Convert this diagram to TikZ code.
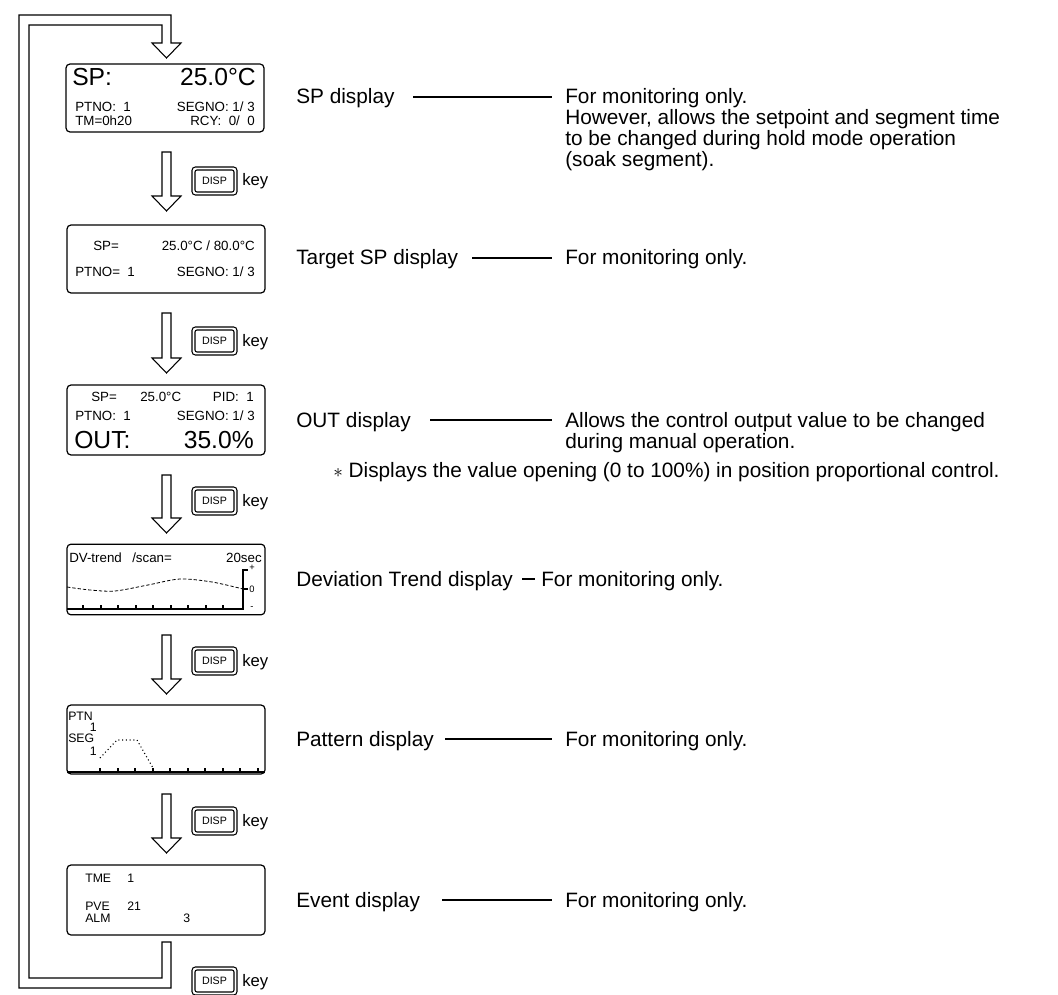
\documentclass[tikz,border=0pt]{standalone}
\usepackage{fontspec}
\setmainfont{Liberation Sans}
\newcommand{\rtxt}{\fontsize{15.6pt}{15.75pt}\selectfont}
\newcommand{\lcdbig}{\fontsize{18.5pt}{18.5pt}\selectfont}
\newcommand{\lcdsm}{\fontsize{10pt}{10pt}\selectfont}
\newcommand{\lcdev}{\fontsize{9.2pt}{9.2pt}\selectfont}
\newcommand{\lcdtiny}{\fontsize{7pt}{7pt}\selectfont}
\newcommand{\dispf}{\fontsize{8pt}{8pt}\selectfont}
\newcommand{\keyf}{\fontsize{12.5pt}{12.5pt}\selectfont}
\begin{document}
\begin{tikzpicture}[x=0.75pt,y=-0.75pt,
  lcd/.style={draw, line width=0.9pt, rounded corners=3pt, minimum width=148.5pt, inner sep=0pt},
  tx/.style={inner sep=0pt, anchor=base west},
  txr/.style={inner sep=0pt, anchor=base east},
  lab/.style={inner sep=0pt, anchor=base west, font=\rtxt},
  leader/.style={line width=1.5pt},
  blk/.style={draw, line width=0.8pt, fill=white},
  keybox/.style={draw, line width=0.8pt, rounded corners=2.5pt, minimum width=33.75pt, minimum height=21pt, inner sep=0pt},
  keyin/.style={draw, line width=0.8pt, rounded corners=1.5pt, minimum width=29.25pt, minimum height=16.5pt, inner sep=0pt, font=\dispf},
  tick/.style={line width=0.8pt}
]
\useasboundingbox (0,0) rectangle (1058,995);

% ---------- loop arrow ----------
\draw[blk] (162,942) -- (162,978) -- (29,978) -- (29,25) -- (162,25) -- (162,43)
  -- (152,43) -- (166.5,58) -- (181,43) -- (171,43) -- (171,15) -- (19,15)
  -- (19,988) -- (171,988) -- (171,942) -- cycle;

% ---------- displays ----------
\node[lcd, minimum height=51pt] (b1) at (165,98) {};
\node[lcd, minimum height=51pt] (b2) at (166,259) {};
\node[lcd, minimum height=52.5pt] (b3) at (166,420) {};
\node[lcd, minimum height=53pt] (b4) at (166,579.5) {};
\node[lcd, minimum height=51.75pt] (b5) at (166,739.5) {};
\node[lcd, minimum height=52.5pt] (b6) at (166,900) {};

% box 1
\node[tx, font=\lcdbig] (b1a) at (72,86) {SP:};
\node[txr, font=\lcdbig] (b1b) at (256,86) {25.0°C};
\node[tx, font=\lcdsm] (b1c) at (75,112) {PTNO:\ \ 1};
\node[txr, font=\lcdsm] (b1d) at (255,112) {SEGNO: 1/ 3};
\node[tx, font=\lcdsm] (b1e) at (75,126) {TM=0h20};
\node[txr, font=\lcdsm] (b1f) at (255,126) {RCY:\ \ 0/\ \ 0};

% box 2
\node[tx, font=\lcdsm] (b2a) at (93,251) {SP=};
\node[txr, font=\lcdsm] (b2b) at (255,251) {25.0°C / 80.0°C};
\node[tx, font=\lcdsm] (b2c) at (75,277) {PTNO=\ \ 1};
\node[txr, font=\lcdsm] (b2d) at (255,277) {SEGNO: 1/ 3};

% box 3
\node[tx, font=\lcdsm] (b3a) at (91,402) {SP=};
\node[tx, font=\lcdsm] (b3b) at (140,402) {25.0°C};
\node[txr, font=\lcdsm] (b3c) at (254,402) {PID:\ \ 1};
\node[tx, font=\lcdsm] (b3d) at (75,420) {PTNO:\ \ 1};
\node[txr, font=\lcdsm] (b3e) at (255,420) {SEGNO: 1/ 3};
\node[tx, font=\lcdbig] (b3f) at (74,448) {OUT:};
\node[txr, font=\lcdbig] (b3g) at (254,448) {35.0\%};

% box 4 : deviation trend
\node[tx, font=\lcdsm] (b4a) at (69,562) {DV-trend};
\node[tx, font=\lcdsm] (b4b) at (132,562) {/scan=};
\node[txr, font=\lcdsm] (b4c) at (262,562) {20sec};
\draw[tick] (67,609) -- (243,609) -- (243,570) -- (248,570);
\draw[tick] (243,589) -- (248,589);
\foreach \xx in {83,101,118,136,153,171,188,206,223} \draw[tick] (\xx,609) -- (\xx,605);
\node[font=\lcdtiny, inner sep=0pt] (b4p) at (252,568) {+};
\node[font=\lcdtiny, inner sep=0pt] (b4z) at (252,589) {0};
\node[font=\lcdtiny, inner sep=0pt] (b4m) at (252,608) {-};
\draw[dashed, dash pattern=on 2.5pt off 1.5pt, line width=0.6pt] plot[smooth] coordinates
  {(67,587) (90,590) (115,591) (148,585) (180,579) (212,582) (243,589)};

% box 5 : pattern
\node[tx, font=\lcdev] (b5a) at (68,720) {PTN};
\node[txr, font=\lcdev] (b5b) at (97,731) {1};
\node[tx, font=\lcdev] (b5c) at (68,742) {SEG};
\node[txr, font=\lcdev] (b5d) at (97,755) {1};
\draw[tick] (67,772) -- (265,772);
\foreach \xx in {100,118,135,153,170,188,205,223,240,258} \draw[tick] (\xx,772) -- (\xx,768);
\draw[dotted, line width=0.8pt] (100,758) -- (117,740) -- (137,740) -- (153,768);

% box 6 : event
\node[tx, font=\lcdev] (b6a) at (85,882) {TME};
\node[tx, font=\lcdev] (b6b) at (127,882) {1};
\node[tx, font=\lcdev] (b6c) at (85,910) {PVE};
\node[tx, font=\lcdev] (b6d) at (127,910) {21};
\node[tx, font=\lcdev] (b6e) at (85,922) {ALM};
\node[tx, font=\lcdev] (b6f) at (183,922) {3};

% ---------- block arrows between displays ----------
\foreach \st/\hb in {152/196, 313/358, 475/518, 635/679, 794/838} {
  \draw[blk] (162,\st) -- (171,\st) -- (171,\hb) -- (181,\hb) -- (166.5,\hb+15)
    -- (152,\hb) -- (162,\hb) -- cycle;
}

% ---------- DISP keys ----------
\foreach \ky [count=\i] in {181,341,501,661,821,981} {
  \node[keybox] (k\i) at (214.5,\ky) {};
  \node[keyin] (ki\i) at (k\i.center) {DISP};
  \node[tx, font=\keyf] (kl\i) at (242,\ky+5) {key};
}

% ---------- right side labels ----------
\node[lab] (l1) at (296,104) {SP display};
\node[lab] (d1a) at (565,104) {For monitoring only.};
\node[lab] (d1b) at (565,125) {However, allows the setpoint and segment time};
\node[lab] (d1c) at (565,146) {to be changed during hold mode operation};
\node[lab] (d1d) at (565,167) {(soak segment).};
\coordinate (s1) at (413,97); \coordinate (e1) at (552,97);
\draw[leader] (s1) -- (e1);

\node[lab] (l2) at (296,265) {Target SP display};
\node[lab] (d2) at (565,265) {For monitoring only.};
\coordinate (s2) at (472,258); \coordinate (e2) at (552,258);
\draw[leader] (s2) -- (e2);

\node[lab] (l3) at (296,427) {OUT display};
\node[lab] (d3a) at (565,427) {Allows the control output value to be changed};
\node[lab] (d3b) at (565,448) {during manual operation.};
\node[lab] (d3c) at (333,477) {$\ast$ Displays the value opening (0 to 100\%) in position proportional control.};
\coordinate (s3) at (430,420); \coordinate (e3) at (552,420);
\draw[leader] (s3) -- (e3);

\node[lab] (l4) at (296,586) {Deviation Trend display};
\node[lab] (d4) at (541,586) {For monitoring only.};
\coordinate (s4) at (522,579); \coordinate (e4) at (535,579);
\draw[leader] (s4) -- (e4);

\node[lab] (l5) at (296,746) {Pattern display};
\node[lab] (d5) at (565,746) {For monitoring only.};
\coordinate (s5) at (445,739); \coordinate (e5) at (552,739);
\draw[leader] (s5) -- (e5);

\node[lab] (l6) at (296,907) {Event display};
\node[lab] (d6) at (565,907) {For monitoring only.};
\coordinate (s6) at (442,900); \coordinate (e6) at (552,900);
\draw[leader] (s6) -- (e6);
\end{tikzpicture}
\end{document}
